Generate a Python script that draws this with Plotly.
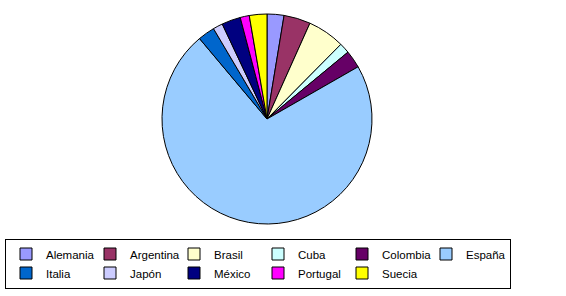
import plotly.graph_objects as go

paises = ["Alemania", "Argentina", "Brasil", "Cuba", "Colombia", "España",
          "Italia", "Japón", "México", "Portugal", "Suecia"]
valores = [2.6, 4.1, 5.7, 1.6, 2.7, 72.1, 2.6, 1.5, 2.9, 1.4, 2.7]
colores = ["#9999FF", "#993366", "#FFFFCC", "#CCFFFF", "#660066", "#99CCFF",
           "#0066CC", "#CCCCFF", "#000080", "#FF00FF", "#FFFF00"]

W, H = 566, 296
cx, cy, r = 267, 119, 105

fig = go.Figure(go.Pie(
    labels=paises, values=valores, sort=False, direction="clockwise", rotation=0,
    marker=dict(colors=colores, line=dict(color="black", width=1)),
    textinfo="none", hoverinfo="label+percent",
    domain=dict(x=[(cx - r) / W, (cx + r) / W], y=[(H - cy - r) / H, (H - cy + r) / H]),
))

fig.update_layout(
    width=W, height=H,
    margin=dict(l=0, r=0, t=0, b=0, autoexpand=False),
    paper_bgcolor="white", plot_bgcolor="white",
    font=dict(family="Liberation Sans, Arial, sans-serif", size=11.5, color="black"),
    legend=dict(
        orientation="h", x=5 / W, xanchor="left", y=1 - 263.5 / H, yanchor="middle",
        bordercolor="black", borderwidth=1, bgcolor="white",
        entrywidth=39, entrywidthmode="pixels", itemwidth=30,
        tracegroupgap=0, traceorder="normal",
        font=dict(size=11.5, color="black"),
    ),
)

fig.write_html("out.html")
